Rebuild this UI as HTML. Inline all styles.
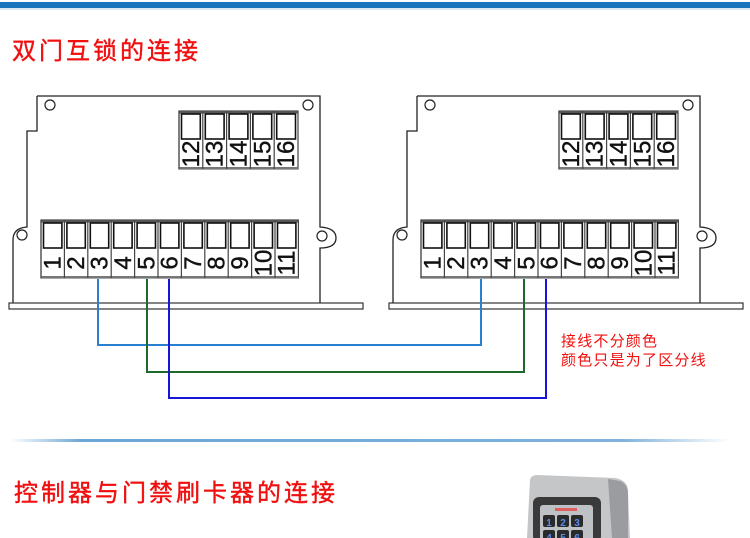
<!DOCTYPE html>
<html><head><meta charset="utf-8"><style>
html,body{margin:0;padding:0;background:#fff;}
body{width:750px;height:538px;overflow:hidden;position:relative;font-family:"Liberation Sans","Noto Sans CJK SC",sans-serif;}
.t{position:absolute;color:#f01010;font-family:"Liberation Sans","Noto Sans CJK SC",sans-serif;white-space:nowrap;}
</style></head><body>
<div style="position:absolute;left:0;top:2px;width:750px;height:6px;background:#1a75bb"></div>
<div style="position:absolute;left:0;top:8px;width:750px;height:2px;background:#dbe9f5"></div>
<div class="t" style="left:12px;top:31px;font-size:24px;letter-spacing:3px;-webkit-text-stroke:0.4px #f01010;">双门互锁的连接</div>
<div class="t" style="left:561px;top:332px;font-size:15px;letter-spacing:1.2px;line-height:19px;">接线不分颜色<br>颜色只是为了区分线</div>
<div style="position:absolute;left:10px;top:439px;width:720px;height:3px;background:linear-gradient(90deg,rgba(110,165,215,0) 0%,#6aa6d6 10%,#7fb2dc 85%,rgba(130,180,220,0) 100%)"></div>
<div class="t" style="left:14px;top:473px;font-size:24px;letter-spacing:3px;-webkit-text-stroke:0.4px #f01010;">控制器与门禁刷卡器的连接</div>
<svg id="s" width="750" height="538" style="position:absolute;left:0;top:0" xmlns="http://www.w3.org/2000/svg"></svg>
<script>
var s=document.getElementById('s'),h='';
function board(o){
 h+='<path d="M'+(37+o)+' 96 H'+(320+o)+' V227 Q'+(336+o)+' 228 '+(336+o)+' 238 Q'+(336+o)+' 248 '+(320+o)+' 248 V303 M'+(37+o)+' 96 V131 H'+(27+o)+' V227 Q'+(13+o)+' 228 '+(13+o)+' 240 V303" fill="none" stroke="#222" stroke-width="1.3"/>';
 h+='<rect x="'+(9+o)+'" y="303" width="'+354+'" height="6" fill="#fff" stroke="#333" stroke-width="1.2"/>';
 [[50,105],[308,105],[22,235],[322,236]].forEach(function(p){h+='<circle cx="'+(p[0]+o)+'" cy="'+p[1]+'" r="5" fill="#fff" stroke="#222" stroke-width="1.2"/>';});
 block(179+o,111,5,23.8,12);
 block(41+o,220,11,23.4,1);
}
function block(x,y,n,w,start){
 h+='<rect x="'+x+'" y="'+y+'" width="'+(n*w)+'" height="58" fill="#fff" stroke="#444" stroke-width="1.2"/>';
 h+='<rect x="'+x+'" y="'+y+'" width="'+(n*w)+'" height="2.5" fill="#555"/>';
 h+='<rect x="'+x+'" y="'+(y+56)+'" width="'+(n*w)+'" height="2.5" fill="#777"/>';
 for(var i=0;i<n;i++){
  var cx=x+i*w;
  h+='<line x1="'+cx+'" y1="'+y+'" x2="'+cx+'" y2="'+(y+58)+'" stroke="#444" stroke-width="1.2"/>';
  h+='<rect x="'+(cx+2.5)+'" y="'+(y+3)+'" width="'+(w-5)+'" height="25" fill="#fff" stroke="#111" stroke-width="1.6"/>';
  var tx=cx+w/2+8,ty=y+43;
  h+='<text x="'+tx+'" y="'+ty+'" transform="rotate(-90 '+tx+' '+ty+')" text-anchor="middle" font-family="Liberation Sans, sans-serif" font-size="24" stroke="#111" stroke-width="0.4" fill="#111">'+(start+i)+'</text>';
 }
}
board(0);board(380);
h+='<polyline points="98,279 98,345 481,345 481,279" fill="none" stroke="#2b7fd0" stroke-width="2"/>';
h+='<polyline points="147,279 147,372 524,372 524,279" fill="none" stroke="#1e6a2a" stroke-width="2"/>';
h+='<polyline points="169,279 169,398 546,398 546,279" fill="none" stroke="#1616d8" stroke-width="2"/>';
h+='<path d="M530 480 Q531 475 537 475 L615 478 Q628 480 628 492 L630 538 L527 538 Z" fill="#c4c6c8"/>';
h+='<path d="M608 479 L620 481 Q628 484 628 494 L628 538 L612 538 Z" fill="#9a9c9f"/>';
h+='<rect x="533" y="497" width="68" height="45" rx="6" fill="#3a3a3a"/>';
h+='<rect x="540" y="505" width="53" height="40" rx="3" fill="#bfc2c5"/>';
h+='<rect x="555" y="508" width="22" height="3" fill="#e06060"/>';
[[543,515],[557,515],[571,515],[543,530],[557,530],[571,530]].forEach(function(p){h+='<rect x="'+p[0]+'" y="'+p[1]+'" width="12" height="12" rx="2" fill="#2a2a2a"/>';});
['1','2','3','4','5','6'].forEach(function(c,i){var x=549+(i%3)*14,y=526+Math.floor(i/3)*15;h+='<text x="'+x+'" y="'+y+'" text-anchor="middle" font-size="10" font-weight="bold" fill="#5a8cf0" font-family="Liberation Sans, sans-serif">'+c+'</text>';});
s.innerHTML=h;
</script>
</body></html>
